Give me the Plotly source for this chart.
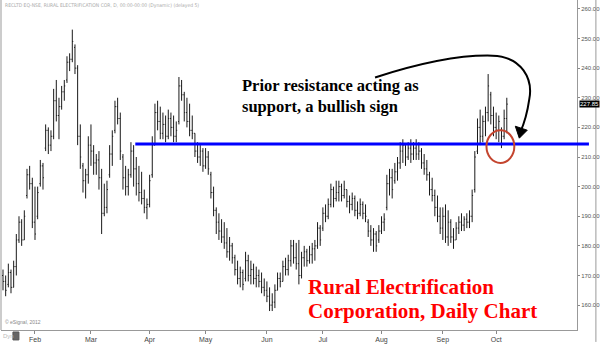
import pandas as pd
import plotly.graph_objects as go

# ---------------- data ----------------
start_date = "2012-01-16"
n_days = 190

highs = [172,170,174,172,175,184,190,189,192,206,207,203,200,200,209,208,221,220,219,233,
         236,230,234,236,244,245,253,248,241,221,208,206,217,221,214,211,212,206,201,202,
         214,219,229,230,225,211,207,206,215,214,210,207,205,199,196,204,217,228,229,227,
         225,224,226,225,224,222,237,236,232,230,228,224,218,215,214,213,213,212,205,200,
         193,191,189,188,186,183,181,177,175,173,172,178,177,175,174,173,172,171,169,168,
         166,164,167,171,171,175,176,177,182,182,181,182,178,180,179,180,181,182,188,187,
         193,194,196,201,200,202,202,201,202,199,197,198,197,195,196,195,194,189,187,186,
         185,187,190,191,204,206,206,208,210,215,216,214,215,216,215,216,215,213,211,209,
         205,203,199,197,193,193,194,192,189,186,188,190,191,190,191,192,199,212,223,226,
         224,227,238,232,227,225,224,220,226,230]
lows = [165,163,166,164,166,170,181,180,182,196,199,186,182,189,200,199,212,211,212,216,
        222,216,226,229,235,239,242,238,214,206,198,196,201,207,204,204,199,184,190,191,
        203,207,218,221,209,199,197,197,203,200,197,195,194,191,189,193,203,214,219,216,
        216,215,216,217,215,215,221,229,222,220,217,216,210,208,207,205,206,204,196,190,
        184,182,181,179,176,175,174,170,167,166,165,168,168,167,167,166,166,164,163,161,
        158,158,159,165,166,168,170,170,173,174,172,167,169,173,173,174,174,175,179,180,
        185,188,189,193,193,195,195,195,196,193,191,192,190,189,190,189,188,183,180,178,
        178,181,184,185,192,197,196,201,202,206,208,207,209,208,209,209,209,206,204,202,
        197,195,190,188,184,182,181,180,181,179,182,184,185,185,186,186,188,198,211,214,
        215,217,222,221,217,216,215,213,216,218]
closes = [168,165,171,166,173,182,188,182,190,204,201,188,184,198,207,203,219,214,217,229,
          224,227,232,234,242,243,249,240,217,210,202,204,214,212,208,209,203,191,193,199,
          211,217,227,223,212,203,200,204,212,206,201,198,196,193,194,202,214,225,222,218,
          221,217,223,220,217,219,234,231,225,222,219,218,212,210,212,207,210,206,198,192,
          188,185,183,181,178,180,176,172,169,171,167,175,170,172,169,170,168,166,165,163,
          160,161,165,169,168,173,172,175,180,176,174,170,176,178,175,177,179,180,186,182,
          191,190,194,199,196,198,200,197,199,195,194,196,192,191,194,191,190,185,182,184,
          180,185,188,189,201,203,199,205,208,212,214,210,213,211,213,211,212,208,206,204,
          199,197,193,190,186,190,183,188,183,182,186,188,187,189,188,190,197,210,220,217,
          222,225,234,224,220,219,222,217,223,227.85]
opens = [170,168,167,171,166,173,182,188,182,197,204,201,188,190,201,207,213,219,214,217,
         229,224,227,232,236,242,243,247,240,217,207,202,204,214,212,208,209,203,191,193,
         204,211,219,227,223,210,203,200,204,212,206,201,198,196,193,194,204,214,225,222,
         218,221,217,223,220,217,222,234,231,225,222,219,218,212,210,212,207,210,204,198,
         192,188,185,183,181,178,180,176,172,169,171,169,175,170,172,169,170,168,166,165,
         163,160,161,165,169,168,173,172,175,180,176,174,170,176,178,175,177,179,180,186,
         186,191,190,194,199,196,198,200,197,199,195,194,196,192,191,194,191,188,185,182,
         184,182,185,188,193,201,203,202,205,208,212,214,210,213,211,213,211,212,208,206,
         204,199,197,193,190,186,190,183,188,183,182,186,188,187,189,188,190,199,212,220,
         217,222,225,231,224,220,219,219,217,223]

resistance_level = 214.4
last_price = 227.85
y_ticks = [160, 170, 180, 190, 200, 210, 220, 230, 240, 250, 260]

header_text = "RECLTD EQ-NSE, RURAL ELECTRIFICATION COR, D, 00:00-00:00 (Dynamic) (delayed 5)"
note_text = "Prior resistance acting as<br>support, a bullish sign"
title_lines = ["Rural Electrification", "Corporation, Daily Chart"]

dates = pd.bdate_range(start_date, periods=n_days)

# month ticks: first trading day of each month (after the first)
month_firsts = []
seen = set()
for d in dates:
    key = (d.year, d.month)
    if key not in seen:
        seen.add(key)
        month_firsts.append(d)
month_firsts = month_firsts[1:]
month_labels = [d.strftime("%b") for d in month_firsts]

# ---------------- figure ----------------
W, H = 600, 344
ML, MR, MT, MB = 1, 20, 0, 12
PW, PH = W - ML - MR, H - MT - MB


def px(x):
    return (x - ML) / PW


def py(y):
    return 1 - (y - MT) / PH


fig = go.Figure()
fig.add_trace(go.Ohlc(
    x=dates, open=opens, high=highs, low=lows, close=closes,
    increasing=dict(line=dict(color="#1a1a1a", width=1)),
    decreasing=dict(line=dict(color="#1a1a1a", width=1)),
    tickwidth=0.35, showlegend=False, hoverinfo="skip",
))

fig.update_layout(
    width=W, height=H,
    margin=dict(l=ML, r=MR, t=MT, b=MB),
    paper_bgcolor="white", plot_bgcolor="white",
    showlegend=False,
    font=dict(family="Liberation Sans, Arial, sans-serif", color="#444"),
    xaxis=dict(
        type="date",
        rangeslider=dict(visible=False),
        rangebreaks=[dict(bounds=["sat", "mon"])],
        range=["2012-01-13 06:00", "2012-11-12 08:00"],
        tickvals=month_firsts, ticktext=month_labels,
        ticks="outside", ticklen=3, tickcolor="#888",
        tickfont=dict(size=7, color="#444"),
        showgrid=False, zeroline=False,
        showline=True, linecolor="#999", linewidth=1,
    ),
    yaxis=dict(
        side="right",
        range=[151.6, 263.0],
        tickvals=y_ticks, tickformat=".2f",
        ticks="outside", ticklen=2, tickcolor="#888",
        tickfont=dict(size=6, color="#555"),
        showgrid=False, zeroline=False,
        showline=True, linecolor="#999", linewidth=1,
    ),
)

shapes = []
# left border and outer right border
shapes.append(dict(type="line", xref="paper", yref="paper", x0=0, x1=0, y0=0, y1=1,
                   line=dict(color="#999", width=1)))
shapes.append(dict(type="line", xref="paper", yref="paper", x0=px(599), x1=px(599),
                   y0=py(344), y1=1, line=dict(color="#999", width=1)))
# resistance line
shapes.append(dict(type="line", xref="paper", yref="y", x0=px(136), x1=px(592),
                   y0=resistance_level, y1=resistance_level,
                   line=dict(color="#0000ff", width=3)))
# red circle
shapes.append(dict(type="circle", xref="paper", yref="paper",
                   x0=px(489), x1=px(517), y0=py(164), y1=py(131),
                   line=dict(color="#c4452f", width=2)))
# curved arrow
arc = (f"M {px(377)},{py(78)} C {px(420)},{py(64)} {px(460)},{py(55)} {px(495)},{py(56)} "
       f"C {px(525)},{py(57)} {px(536)},{py(80)} {px(532)},{py(100)} "
       f"C {px(530)},{py(114)} {px(527)},{py(124)} {px(523)},{py(133)}")
shapes.append(dict(type="path", xref="paper", yref="paper", path=arc,
                   line=dict(color="black", width=2)))
head = (f"M {px(522)},{py(139)} L {px(518)},{py(127)} L {px(530)},{py(131)} Z")
shapes.append(dict(type="path", xref="paper", yref="paper", path=head,
                   line=dict(color="black", width=1), fillcolor="black"))
# small Dyn button box
shapes.append(dict(type="rect", xref="paper", yref="paper",
                   x0=px(13), x1=px(19), y0=py(342), y1=py(334),
                   line=dict(color="#555", width=1), fillcolor="#666"))
fig.update_layout(shapes=shapes)

annotations = []
annotations.append(dict(xref="paper", yref="paper", x=px(3), y=py(6), xanchor="left",
                        yanchor="middle", text=header_text, showarrow=False,
                        font=dict(size=5, color="#aaa",
                                  family="DejaVu Sans Condensed, Liberation Sans Narrow, Arial, sans-serif")))
annotations.append(dict(xref="paper", yref="paper", x=px(3), y=py(324), xanchor="left",
                        yanchor="middle", text="© eSignal, 2012", showarrow=False,
                        font=dict(size=5, color="#888")))
annotations.append(dict(xref="paper", yref="paper", x=px(1), y=py(338), xanchor="left",
                        yanchor="middle", text="Dyn", showarrow=False,
                        font=dict(size=6, color="#bbb")))
annotations.append(dict(xref="paper", yref="y", x=1, y=last_price, xanchor="left",
                        yanchor="middle", xshift=2, text="227.85", showarrow=False,
                        bgcolor="black", borderpad=0,
                        font=dict(size=6, color="white")))
annotations.append(dict(xref="paper", yref="paper", x=px(241), y=py(97),
                        xanchor="left", yanchor="middle", text=f"<b>{note_text}</b>",
                        align="left", showarrow=False,
                        font=dict(size=16.5, color="black",
                                  family="Liberation Serif, Times New Roman, serif")))
for line, yy in zip(title_lines, [289, 313]):
    annotations.append(dict(xref="paper", yref="paper", x=px(308), y=py(yy),
                            xanchor="left", yanchor="middle", text=f"<b>{line}</b>",
                            showarrow=False,
                            font=dict(size=21, color="#ff0000",
                                      family="Liberation Serif, Times New Roman, serif")))
fig.update_layout(annotations=annotations)

fig.write_html("out.html")
